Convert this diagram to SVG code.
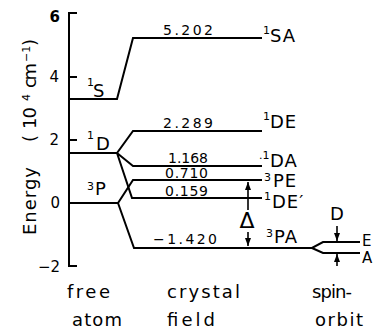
<svg xmlns="http://www.w3.org/2000/svg" width="375" height="330" viewBox="0 0 375 330">
<style>
text{font-family:"DejaVu Sans","Liberation Sans",sans-serif;fill:#000}
.ln{fill:none;stroke:#000;stroke-width:2;stroke-linejoin:miter}
.ar{fill:none;stroke:#000;stroke-width:1.6}
.num{font-size:14px}
.tick{font-size:15px;text-anchor:end}
.lvl{font-size:18px;letter-spacing:1px}
.sup{font-size:11px;letter-spacing:0}
.lab{font-size:18px}
</style>
<defs>
<marker id="ah" markerWidth="8" markerHeight="6" refX="8" refY="3" orient="auto" markerUnits="userSpaceOnUse">
<path d="M0,0 L8,3 L0,6 z" fill="#000"/>
</marker>
</defs>
<rect width="375" height="330" fill="#fff"/>
<g id="axis">
<path class="ln" d="M77,13 H69 V266 H77 M69,77 H77 M69,140 H77 M69,203 H77"/>
<text class="tick" x="60" y="22" font-weight="bold">6</text>
<text class="tick" x="59" y="82">4</text>
<text class="tick" x="59" y="145">2</text>
<text class="tick" x="60" y="208">0</text>
<text class="tick" x="60" y="272">−2</text>
<text class="lab" transform="translate(36,235) rotate(-90)"><tspan x="0" textLength="68" lengthAdjust="spacing">Energy</tspan><tspan x="93">(</tspan><tspan x="106" textLength="22" lengthAdjust="spacing">10</tspan><tspan x="134" dy="-6" font-size="11">4</tspan><tspan x="147" dy="6" textLength="25" lengthAdjust="spacing">cm</tspan><tspan x="173" dy="-6" font-size="11">−1</tspan><tspan x="189" dy="6">)</tspan></text>
</g>
<g id="connectors">
<path class="ln" d="M69,99 H117 L133,38 H262"/>
<path class="ln" d="M69,153 H117 L133,131 H262 M117,153 L133,166 H262 M117,153 L132,198 H262"/>
<path class="ln" d="M69,203 H118 L133,180 H262 M118,203 L134,248 H312 L323,242 H360 M312,248 L323,253 H360"/>
<path class="ar" d="M248,210 V182" marker-end="url(#ah)"/>
<path class="ar" d="M248,232 V246" marker-end="url(#ah)"/>
<path class="ar" d="M337,226 V241" marker-end="url(#ah)"/>
<path class="ar" d="M337,266 V254" marker-end="url(#ah)"/>
</g>
<g id="free-atom">
<text class="lvl" x="87" y="97"><tspan class="sup" dy="-11">1</tspan><tspan x="93" dy="11">S</tspan></text>
<text class="lvl" x="87" y="150"><tspan class="sup" dy="-11">1</tspan><tspan x="96" dy="11">D</tspan></text>
<text class="lvl" x="87" y="195"><tspan class="sup" dy="-5">3</tspan><tspan x="95" dy="5">P</tspan></text>
</g>
<g id="values">
<text class="num" x="163" y="35" textLength="50" lengthAdjust="spacing">5.202</text>
<text class="num" x="163" y="128" textLength="50" lengthAdjust="spacing">2.289</text>
<text class="num" x="168" y="163" textLength="40" lengthAdjust="spacing">1.168</text>
<text class="num" x="165" y="178" textLength="43" lengthAdjust="spacing">0.710</text>
<text class="num" x="165" y="196" textLength="43" lengthAdjust="spacing">0.159</text>
<text class="num" x="153" y="244" textLength="64" lengthAdjust="spacing">−1.420</text>
</g>
<g id="cf-labels">
<text class="lvl" x="263" y="42"><tspan class="sup" dy="-8">1</tspan><tspan x="270" dy="8">SA</tspan></text>
<text class="lvl" x="263" y="128"><tspan class="sup" dy="-8">1</tspan><tspan x="270" dy="8">DE</tspan></text>
<text class="lvl" x="259" y="167"><tspan class="sup" dy="-8">.1</tspan><tspan x="270" dy="8">DA</tspan></text>
<text class="lvl" x="264" y="187"><tspan class="sup" dy="-6">3</tspan><tspan x="273" dy="6">PE</tspan></text>
<text class="lvl" x="264" y="208"><tspan class="sup" dy="-8">1</tspan><tspan x="272" dy="8">DE′</tspan></text>
<text class="lvl" x="266" y="243"><tspan class="sup" dy="-6">3</tspan><tspan x="274" dy="6">PA</tspan></text>
<text x="247" y="228" font-size="22" text-anchor="middle">Δ</text>
</g>
<g id="so-labels">
<text class="lab" x="337" y="220" text-anchor="middle">D</text>
<text x="362" y="246" font-size="15">E</text>
<text x="362" y="263" font-size="15">A</text>
</g>
<g id="bottom">
<text class="lab" x="67" y="298" textLength="43" lengthAdjust="spacing">free</text>
<text class="lab" x="72" y="326" textLength="50" lengthAdjust="spacing">atom</text>
<text class="lab" x="167" y="298" textLength="73" lengthAdjust="spacing">crystal</text>
<text class="lab" x="167" y="326" textLength="48" lengthAdjust="spacing">field</text>
<text class="lab" x="312" y="298" textLength="40" lengthAdjust="spacing">spin-</text>
<text class="lab" x="315" y="326" textLength="48" lengthAdjust="spacing">orbit</text>
</g>
</svg>
